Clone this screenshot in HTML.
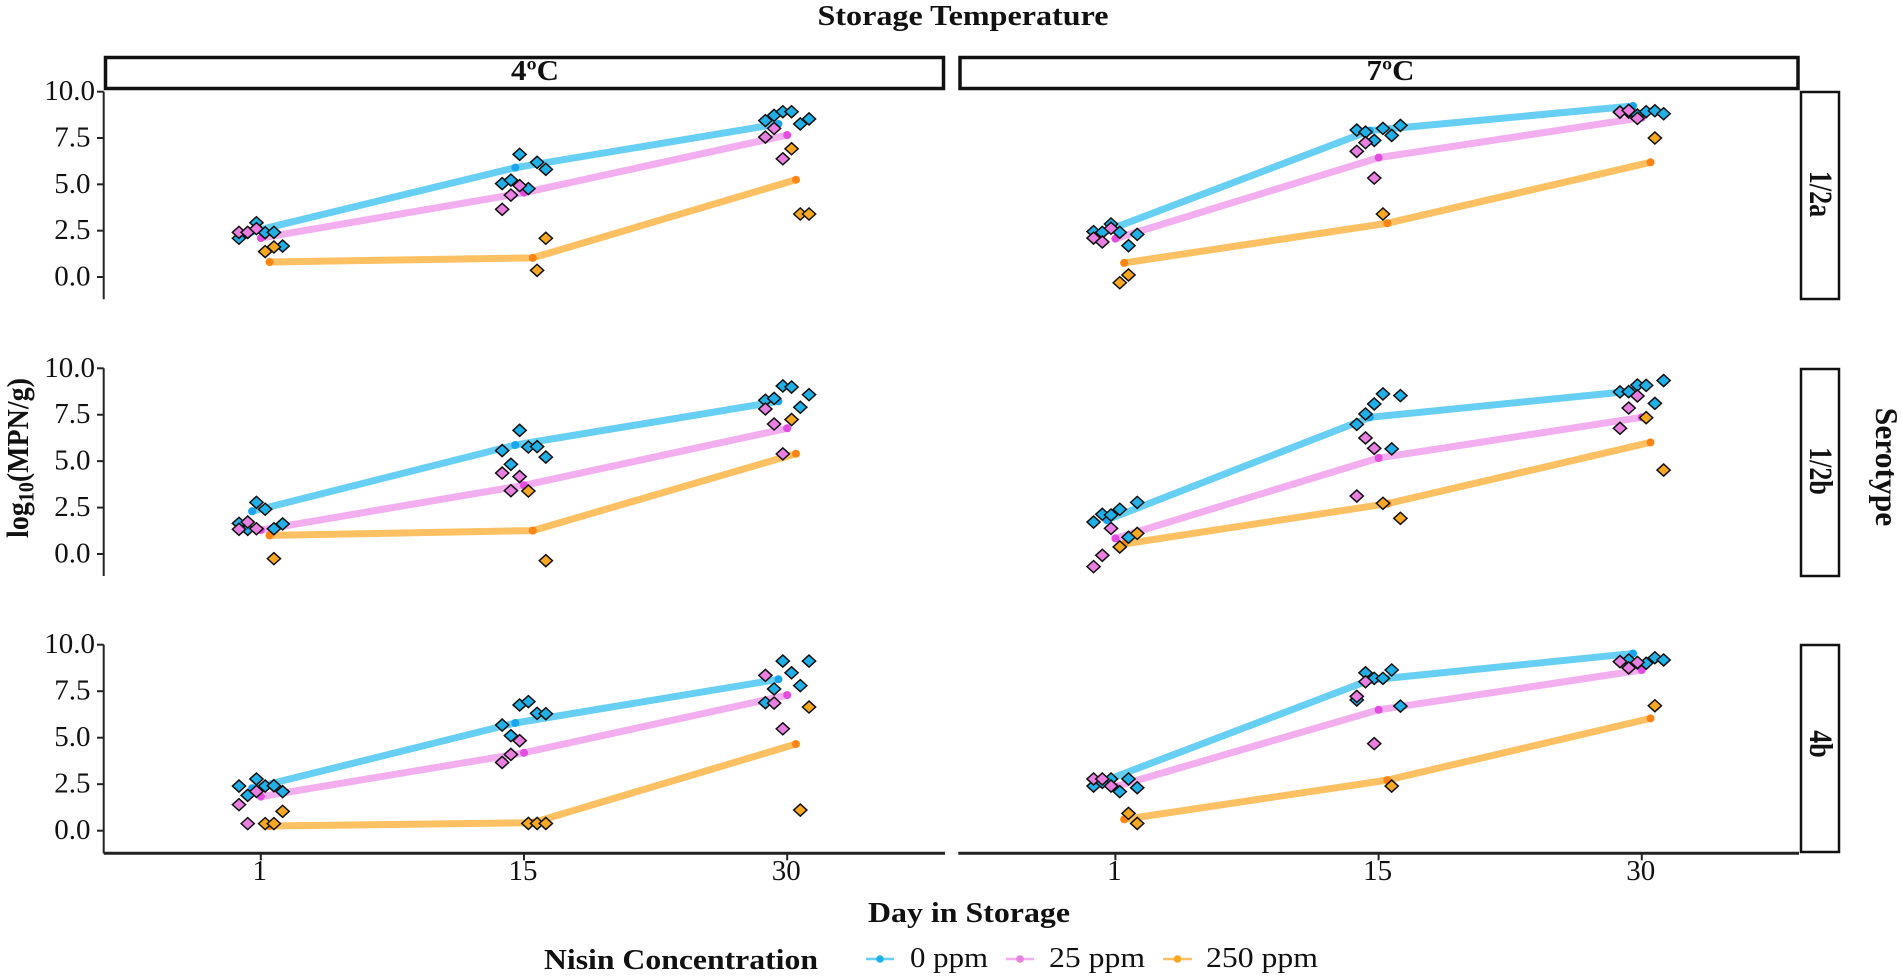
<!DOCTYPE html>
<html lang="en">
<head>
<meta charset="utf-8">
<title>Listeria growth by storage temperature, serotype and nisin concentration</title>
<style>
html,body{margin:0;padding:0;background:#fff;width:1902px;height:978px;overflow:hidden}
svg{display:block}
text{font-family:"Liberation Serif",serif;fill:#111}
.b{font-weight:bold}
</style>
</head>
<body>
<svg id="chart" xmlns="http://www.w3.org/2000/svg" width="1902" height="978" viewBox="0 0 1902 978">
  <rect x="0" y="0" width="1902" height="978" fill="#fff"/>
  <text class="b" x="963" y="25" font-size="28" text-anchor="middle" textLength="291" lengthAdjust="spacingAndGlyphs">Storage Temperature</text>

  <rect x="105.5" y="57.5" width="838" height="31" fill="#fff" stroke="#111" stroke-width="3.5"/>
  <text class="b" x="535" y="80" font-size="29" text-anchor="middle" textLength="48" lengthAdjust="spacingAndGlyphs">4ºC</text>
  <rect x="960" y="57.5" width="838" height="31" fill="#fff" stroke="#111" stroke-width="3.5"/>
  <text class="b" x="1390.5" y="80" font-size="29" text-anchor="middle" textLength="48" lengthAdjust="spacingAndGlyphs">7ºC</text>

  <rect x="1801" y="92" width="38" height="207" fill="#fff" stroke="#111" stroke-width="2.5"/>
  <text class="b" transform="translate(1810,194) rotate(90) scale(1,1.27)" font-size="26" text-anchor="middle">1/2a</text>
  <rect x="1801" y="369" width="38" height="207" fill="#fff" stroke="#111" stroke-width="2.5"/>
  <text class="b" transform="translate(1810,471) rotate(90) scale(1,1.27)" font-size="26" text-anchor="middle">1/2b</text>
  <rect x="1801" y="645" width="38" height="207" fill="#fff" stroke="#111" stroke-width="2.5"/>
  <text class="b" transform="translate(1810,744) rotate(90) scale(1,1.27)" font-size="26" text-anchor="middle">4b</text>

  <text class="b" transform="translate(1876,467) rotate(90)" font-size="31.5" text-anchor="middle">Serotype</text>
  <text class="b" transform="translate(28,458) rotate(-90) scale(1,1.1)" font-size="28" text-anchor="middle">log<tspan font-size="20" dy="5">10</tspan><tspan dy="-5">(MPN/g)</tspan></text>
  <text class="b" x="969" y="922" font-size="28" text-anchor="middle" textLength="202" lengthAdjust="spacingAndGlyphs">Day in Storage</text>

  <text class="b" x="544" y="969" font-size="28" textLength="274" lengthAdjust="spacingAndGlyphs">Nisin Concentration</text>
  <g id="legend"></g>
  <g id="plot"></g>
</svg>

<script>
// ---- Categories and tick labels ----
const days = ['1', '15', '30'];
const yTicks = [0, 2.5, 5, 7.5, 10];
const yTickLabels = ['0.0', '2.5', '5.0', '7.5', '10.0'];
const concentrations = ['0 ppm', '25 ppm', '250 ppm'];
const _ = null;

// ---- Mean lines: one value per day, per panel and nisin level ----
const mean_4C_12a_0   = [2.45, 5.90, 8.26];
const mean_4C_12a_25  = [2.10, 4.55, 7.66];
const mean_4C_12a_250 = [0.81, 1.03, 5.25];
const mean_7C_12a_0   = [2.50, 7.90, 9.23];
const mean_7C_12a_25  = [2.07, 6.44, 8.60];
const mean_7C_12a_250 = [0.76, 2.90, 6.19];
const mean_4C_12b_0   = [2.30, 5.87, 8.22];
const mean_4C_12b_25  = [1.29, 3.70, 6.77];
const mean_4C_12b_250 = [1.00, 1.26, 5.40];
const mean_7C_12b_0   = [1.83, 7.36, 8.78];
const mean_7C_12b_25  = [0.84, 5.17, 7.36];
const mean_7C_12b_250 = [0.54, 2.71, 6.01];
const mean_4C_4b_0    = [2.28, 5.79, 8.14];
const mean_4C_4b_25   = [1.83, 4.19, 7.29];
const mean_4C_4b_250  = [0.25, 0.43, 4.66];
const mean_7C_4b_0    = [2.72, 8.10, 9.53];
const mean_7C_4b_25   = [2.37, 6.50, 8.64];
const mean_7C_4b_250  = [0.61, 2.72, 6.04];

// ---- Replicates: [day 1, day 15, day 30], each listing six replicate slots ----
const reps_4C_12a_0 = [[2.09, 2.40, 2.93, 2.39, 2.41, 1.67], [5.04, 5.23, 6.62, 4.77, 6.19, 5.81], [8.44, 8.72, 8.92, 8.92, 8.26, 8.53]];
const reps_4C_12a_25 = [[2.41, 2.41, 2.61, _, _, _], [3.65, 4.42, 4.93, _, _, _], [7.55, 8.02, 6.38, _, _, _]];
const reps_4C_12a_250 = [[_, _, _, 1.37, 1.62, _], [_, _, _, _, 0.36, 2.09], [_, _, _, 6.92, 3.40, 3.40]];

const reps_7C_12a_0 = [[2.45, 2.41, 2.86, 2.41, 1.69, 2.30], [7.93, 7.82, 7.37, 8.02, 7.64, 8.18], [8.90, 8.90, 8.74, 8.92, 8.97, 8.81]];
const reps_7C_12a_25 = [[2.10, 1.89, 2.63, _, _, _], [6.78, 7.25, 5.34, _, _, _], [8.90, 8.99, 8.56, _, _, _]];
const reps_7C_12a_250 = [[_, _, _, -0.31, 0.11, _], [_, _, _, 3.40, _, _], [_, _, _, _, 7.50, _]];

const reps_4C_12b_0 = [[1.65, 1.33, 2.78, 2.41, 1.36, 1.62], [5.57, 4.83, 6.66, 5.76, 5.78, 5.22], [8.28, 8.38, 9.05, 8.99, 7.90, 8.58]];
const reps_4C_12b_25 = [[1.33, 1.72, 1.36, _, _, _], [4.36, 3.41, 4.17, _, _, _], [7.81, 7.00, 5.39, _, _, _]];
const reps_4C_12b_250 = [[_, _, _, _, -0.25, _], [_, _, _, 3.39, _, -0.36], [_, _, _, 7.24, _, _]];

const reps_7C_12b_0 = [[1.72, 2.14, 2.10, 2.41, 0.90, 2.78], [6.98, 7.54, 8.08, 8.62, 5.66, 8.53], [8.73, 8.74, 9.10, 9.08, 8.11, 9.34]];
const reps_7C_12b_25 = [[-0.68, -0.07, 1.38, _, _, _], [3.12, 6.25, 5.69, _, _, _], [6.77, 7.86, 8.51, _, _, _]];
const reps_7C_12b_250 = [[_, _, _, 0.38, _, 1.11], [_, _, _, 2.73, _, 1.92], [_, _, _, 7.34, _, 4.52]];

const reps_4C_4b_0 = [[2.40, 1.90, 2.78, 2.40, 2.42, 2.10], [5.68, 5.11, 6.76, 6.94, 6.31, 6.29], [6.88, 7.62, 9.12, 8.49, 7.80, 9.12]];
const reps_4C_4b_25 = [[1.40, 0.38, 2.11, _, _, _], [3.67, 4.10, 4.84, _, _, _], [8.35, 6.86, 5.48, _, _, _]];
const reps_4C_4b_250 = [[_, _, _, 0.38, 0.38, 1.04], [_, _, _, 0.39, 0.39, 0.39], [_, _, _, _, 1.11, 6.65]];

const reps_7C_4b_0 = [[2.40, 2.60, 2.78, 2.10, 2.78, 2.31], [7.03, 8.49, 8.19, 8.19, 8.64, 6.70], [9.09, 9.18, 9.02, 9.00, 9.30, 9.18]];
const reps_7C_4b_25 = [[2.78, 2.78, 2.40, _, _, _], [7.22, 8.01, 4.68, _, _, _], [9.09, 8.75, 9.05, _, _, _]];
const reps_7C_4b_250 = [[_, _, _, _, 0.93, 0.39], [_, _, _, _, 2.40, _], [_, _, _, _, 6.72, _]];

// ---- Panel table: [column, row, means, replicates] ----
const panels = [
  [0, 0, [mean_4C_12a_0, mean_4C_12a_25, mean_4C_12a_250], [reps_4C_12a_0, reps_4C_12a_25, reps_4C_12a_250]],
  [1, 0, [mean_7C_12a_0, mean_7C_12a_25, mean_7C_12a_250], [reps_7C_12a_0, reps_7C_12a_25, reps_7C_12a_250]],
  [0, 1, [mean_4C_12b_0, mean_4C_12b_25, mean_4C_12b_250], [reps_4C_12b_0, reps_4C_12b_25, reps_4C_12b_250]],
  [1, 1, [mean_7C_12b_0, mean_7C_12b_25, mean_7C_12b_250], [reps_7C_12b_0, reps_7C_12b_25, reps_7C_12b_250]],
  [0, 2, [mean_4C_4b_0, mean_4C_4b_25, mean_4C_4b_250], [reps_4C_4b_0, reps_4C_4b_25, reps_4C_4b_250]],
  [1, 2, [mean_7C_4b_0, mean_7C_4b_25, mean_7C_4b_250], [reps_7C_4b_0, reps_7C_4b_25, reps_7C_4b_250]]
];

// ---- Layout and styling (not data) ----
const columnLayout = [
  { left: 103.7, right: 945, firstTick: 260.8 },
  { left: 958.3, right: 1799, firstTick: 1115.4 }
];
const rowLayout = [
  { zero: 277, ten: 91.7, bottom: 299.3 },
  { zero: 554, ten: 368.3, bottom: 576 },
  { zero: 830.7, ten: 644.7, bottom: 853.3 }
];
const dayStep = 263.2;
const slotStep = 8.73;
const lineColors = ['#66cff3', '#f2aeef', '#fdc163'];
const dotColors = ['#16a5ee', '#e44be0', '#ff8412'];
const fillColors = ['#20b0e8', '#e97fe0', '#f9a820'];
const legendSlots = [
  { x1: 866, x2: 894, textX: 910, textW: 78 },
  { x1: 1006, x2: 1034, textX: 1049, textW: 96 },
  { x1: 1163, x2: 1192, textX: 1206, textW: 112 }
];

const NS = 'http://www.w3.org/2000/svg';
const plot = document.getElementById('plot');
const legend = document.getElementById('legend');

function make(tag, attrs, parent) {
  const el = document.createElementNS(NS, tag);
  for (const key in attrs) el.setAttribute(key, attrs[key]);
  parent.appendChild(el);
  return el;
}

// Axis functions
function xScale(column, dayIndex, offset) {
  return columnLayout[column].firstTick + dayIndex * dayStep + offset;
}
function yScale(row, value) {
  const r = rowLayout[row];
  return r.zero + (r.ten - r.zero) * value / 10;
}

// Y axes
rowLayout.forEach(function (r, row) {
  const axisLine = make('line', { x1: 103.7, x2: 103.7, y1: r.ten, y2: r.bottom, stroke: '#222', 'stroke-width': 2 }, plot);
  
  
  yTicks.forEach(function (tick, i) {
    const y = yScale(row, tick);
    const mark = make('line', { x1: 97, x2: 103.7, y1: y, y2: y, stroke: '#222', 'stroke-width': 2 }, plot);
    
    
    const labelRight = yTickLabels[i].length > 3 ? 95 : 90.5;
    const label = make('text', { x: labelRight, y: y + 8.5, 'font-size': 29, 'text-anchor': 'end' }, plot);
    
    
    label.textContent = yTickLabels[i];
  });
});

// X axes
columnLayout.forEach(function (c, column) {
  const bottom = rowLayout[2].bottom;
  const axisLine = make('line', { x1: c.left, x2: c.right, y1: bottom, y2: bottom, stroke: '#222', 'stroke-width': 3 }, plot);
  
  
  days.forEach(function (day, d) {
    const x = xScale(column, d, 0);
    const mark = make('line', { x1: x, x2: x, y1: bottom, y2: bottom + 7, stroke: '#222', 'stroke-width': 2 }, plot);
    
    
    const label = make('text', { x: x - 1, y: 880, 'font-size': 29, 'text-anchor': 'middle' }, plot);
    
    
    label.textContent = day;
  });
});

// Series
panels.forEach(function (panel) {
  const column = panel[0], row = panel[1], means = panel[2], reps = panel[3];
  means.forEach(function (values, s) {
    const offset = (s - 1) * slotStep;
    const pts = values.map(function (v, d) { return xScale(column, d, offset) + ',' + yScale(row, v); }).join(' ');
    const line = make('polyline', { points: pts, fill: 'none', stroke: lineColors[s], 'stroke-width': 7, 'stroke-linejoin': 'round' }, plot);
    
    
  });
  means.forEach(function (values, s) {
    const offset = (s - 1) * slotStep;
    values.forEach(function (v, d) {
      const dot = make('circle', { cx: xScale(column, d, offset), cy: yScale(row, v), r: 4, fill: dotColors[s] }, plot);
      
      
    });
  });
  reps.forEach(function (byDay, s) {
    byDay.forEach(function (slots, d) {
      slots.forEach(function (v, slot) {
        if (v === null) return;
        const cx = xScale(column, d, (slot - 2.5) * slotStep);
        const cy = yScale(row, v);
        const shape = [cx - 6.6, cy, cx, cy - 6, cx + 6.6, cy, cx, cy + 6].join(' ');
        const diamond = make('polygon', { points: shape, fill: fillColors[s], stroke: '#111', 'stroke-width': 1.5 }, plot);
        
        
      });
    });
  });
});

// Legend
concentrations.forEach(function (name, s) {
  const pos = legendSlots[s];
  const keyLine = make('line', { x1: pos.x1, x2: pos.x2, y1: 959, y2: 959, stroke: lineColors[s], 'stroke-width': 2.5 }, legend);
  
  
  const keyDot = make('circle', { cx: (pos.x1 + pos.x2) / 2, cy: 959, r: 3.8, fill: fillColors[s] }, legend);
  
  
  const label = make('text', { x: pos.textX, y: 967, 'font-size': 28, textLength: pos.textW, lengthAdjust: 'spacingAndGlyphs' }, legend);
  
  
  label.textContent = name;
});
</script>
</body>
</html>
